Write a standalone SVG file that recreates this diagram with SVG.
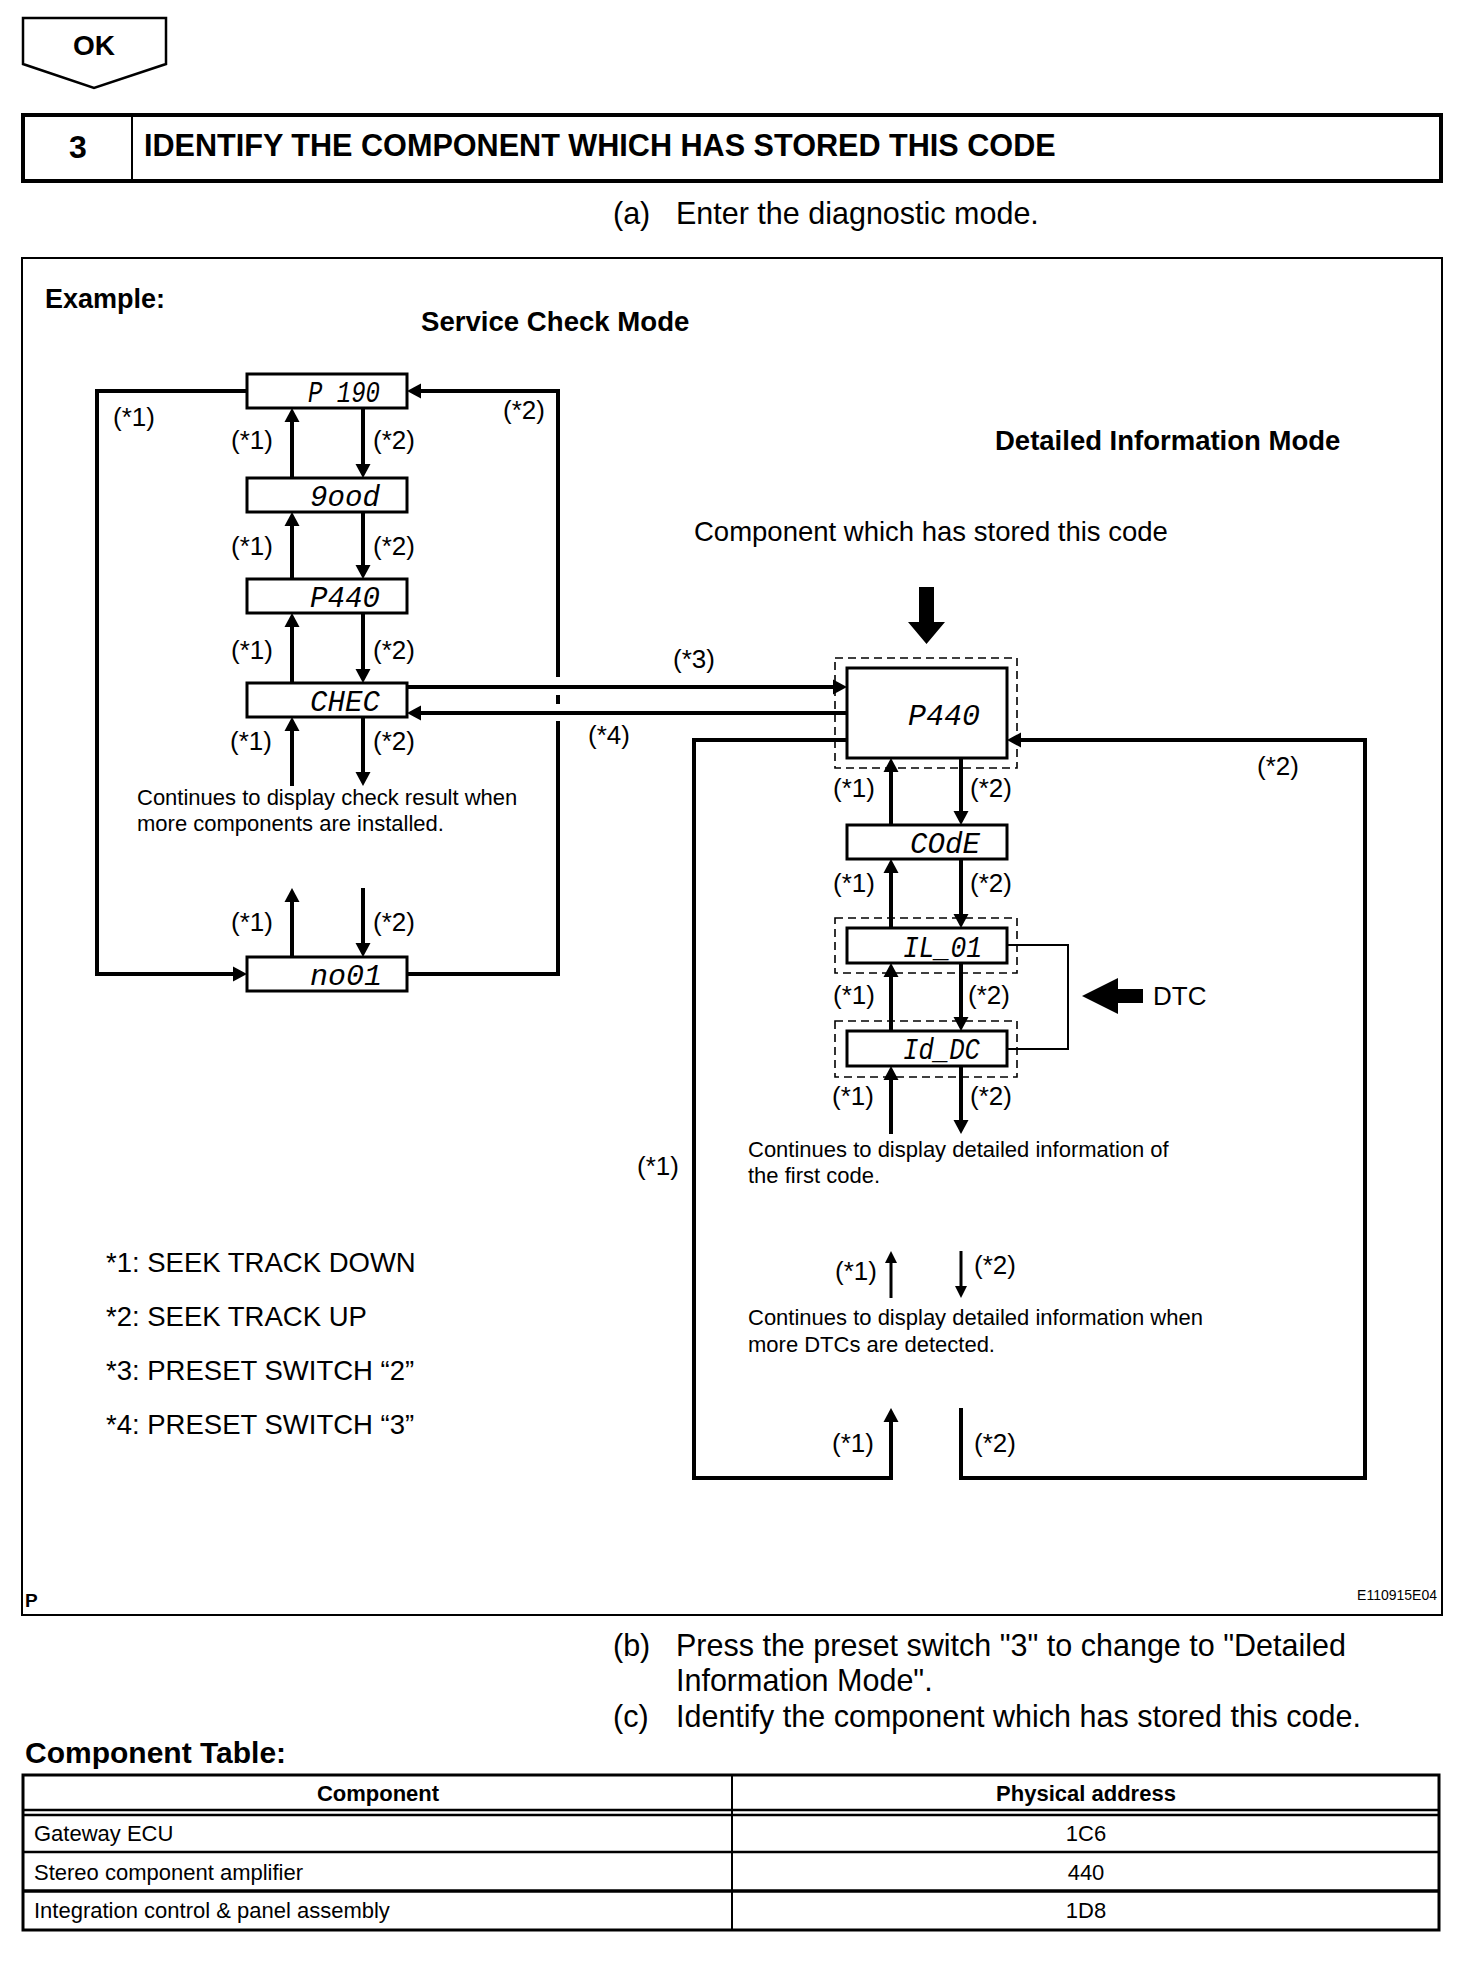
<svg xmlns="http://www.w3.org/2000/svg" width="1472" height="1968" viewBox="0 0 1472 1968">
<style>
text{font-family:"Liberation Sans",Arial,sans-serif;fill:#000}
.b{font-weight:bold}
.lbl{font-size:26px}
.sm{font-size:22px}
.step{font-size:30.5px}
.lcd{font-family:"Liberation Mono","DejaVu Sans Mono",monospace;font-style:italic;font-size:30px}
.box{fill:#fff;stroke:#000;stroke-width:3}
.dash{fill:none;stroke:#000;stroke-width:1.6;stroke-dasharray:8 5}
.ln{fill:none;stroke:#000;stroke-width:4}
.lnt{fill:none;stroke:#000;stroke-width:3}
.thin{fill:none;stroke:#000;stroke-width:2}
.arr{marker-end:url(#ah)}
.arrs{marker-end:url(#ahs)}
</style>
<defs>
<marker id="ah" markerUnits="userSpaceOnUse" viewBox="-1 -8 15 16" markerWidth="15" markerHeight="16" refX="0" refY="0" orient="auto"><path d="M-1,-7.5 L13,0 L-1,7.5 z" fill="#000"/></marker>
<marker id="ahs" markerUnits="userSpaceOnUse" viewBox="-1 -7 13 14" markerWidth="13" markerHeight="14" refX="0" refY="0" orient="auto"><path d="M-1,-6 L11,0 L-1,6 z" fill="#000"/></marker>
</defs>
<rect width="1472" height="1968" fill="#fff"/>

<!-- header -->
<g id="ok-badge">
<polygon points="23,18 166,18 166,64 94,88 23,64" fill="#fff" stroke="#000" stroke-width="2.5"/>
<text x="94" y="55" class="b" font-size="28" text-anchor="middle">OK</text>
</g>
<g id="step-header">
<rect x="23" y="115" width="1418" height="66" fill="#fff" stroke="#000" stroke-width="4"/>
<line x1="132" y1="115" x2="132" y2="181" stroke="#000" stroke-width="2"/>
<text x="78" y="158" class="b" font-size="32" text-anchor="middle">3</text>
<text x="144" y="156" class="b" font-size="30.6">IDENTIFY THE COMPONENT WHICH HAS STORED THIS CODE</text>
</g>
<g id="step-a">
<text x="613" y="224" class="step">(a)</text>
<text x="676" y="224" class="step">Enter the diagnostic mode.</text>
</g>

<!-- frame -->
<g id="frame">
<rect x="22" y="258" width="1420" height="1357" fill="none" stroke="#000" stroke-width="2"/>
<text x="45" y="308" class="b" font-size="27">Example:</text>
<text x="421" y="331" class="b" font-size="27.6">Service Check Mode</text>
<text x="995" y="450" class="b" font-size="27.5">Detailed Information Mode</text>
<text x="694" y="541" font-size="27.5">Component which has stored this code</text>
<text x="25" y="1607" class="b" font-size="19">P</text>
<text x="1437" y="1600" font-size="14" text-anchor="end">E110915E04</text>
</g>

<!-- connectors -->
<g id="connectors">
<!-- service check mode verticals -->
<line class="ln arr" x1="292" y1="478" x2="292" y2="421"/>
<line class="ln arr" x1="363" y1="408" x2="363" y2="465"/>
<line class="ln arr" x1="292" y1="579" x2="292" y2="525"/>
<line class="ln arr" x1="363" y1="512" x2="363" y2="566"/>
<line class="ln arr" x1="292" y1="683" x2="292" y2="626"/>
<line class="ln arr" x1="363" y1="613" x2="363" y2="670"/>
<line class="ln arr" x1="292" y1="786" x2="292" y2="730"/>
<line class="ln arr" x1="363" y1="717" x2="363" y2="773"/>
<line class="ln arr" x1="292" y1="957" x2="292" y2="901"/>
<line class="ln arr" x1="363" y1="888" x2="363" y2="944"/>
<!-- loops -->
<path class="ln arr" d="M247,391 H97 V974 H234"/>
<path class="ln" d="M407,974 H558 V721"/>
<path class="ln" d="M558,704 V695"/>
<path class="ln arr" d="M558,677 V391 H420"/>
<!-- mode switch -->
<line class="ln arr" x1="407" y1="687" x2="834" y2="687"/>
<line class="ln arr" x1="847" y1="713" x2="420" y2="713"/>
<!-- detailed mode verticals -->
<line class="ln arr" x1="891" y1="825" x2="891" y2="771"/>
<line class="ln arr" x1="961" y1="758" x2="961" y2="812"/>
<line class="ln arr" x1="891" y1="928" x2="891" y2="872"/>
<line class="ln arr" x1="961" y1="859" x2="961" y2="915"/>
<line class="ln arr" x1="891" y1="1031" x2="891" y2="976"/>
<line class="ln arr" x1="961" y1="963" x2="961" y2="1018"/>
<line class="ln arr" x1="891" y1="1134" x2="891" y2="1079"/>
<line class="ln arr" x1="961" y1="1066" x2="961" y2="1121"/>
<line class="lnt arrs" x1="891" y1="1298" x2="891" y2="1262"/>
<line class="lnt arrs" x1="961" y1="1251" x2="961" y2="1287"/>
<path class="ln arr" d="M847,740 H694 V1478 H891 V1421"/>
<path class="ln arr" d="M961,1408 V1478 H1365 V740 H1020"/>
<!-- DTC bracket -->
<path class="thin" d="M1007,945 H1068 V1049 H1007"/>
</g>

<!-- service check mode nodes -->
<g id="node-p190"><rect class="box" x="247" y="374" width="160" height="34"/><text class="lcd" x="308" y="402" textLength="72" lengthAdjust="spacingAndGlyphs">P 190</text></g>
<g id="node-good"><rect class="box" x="247" y="478" width="160" height="34"/><text class="lcd" x="310" y="506" textLength="70" lengthAdjust="spacingAndGlyphs">9ood</text></g>
<g id="node-p440"><rect class="box" x="247" y="579" width="160" height="34"/><text class="lcd" x="310" y="607" textLength="70" lengthAdjust="spacingAndGlyphs">P440</text></g>
<g id="node-chec"><rect class="box" x="247" y="683" width="160" height="34"/><text class="lcd" x="310" y="711" textLength="70" lengthAdjust="spacingAndGlyphs">CHEC</text></g>
<g id="node-no01"><rect class="box" x="247" y="957" width="160" height="34"/><text class="lcd" x="310" y="985" textLength="72" lengthAdjust="spacingAndGlyphs">no01</text></g>

<!-- detailed information mode nodes -->
<g id="node-p440-detail">
<rect class="dash" x="835" y="658" width="182" height="110"/>
<rect class="box" x="847" y="668" width="160" height="90"/>
<text class="lcd" x="908" y="725" font-size="34" textLength="72" lengthAdjust="spacingAndGlyphs">P440</text>
</g>
<g id="node-code"><rect class="box" x="847" y="825" width="160" height="34"/><text class="lcd" x="910" y="853" textLength="70" lengthAdjust="spacingAndGlyphs">COdE</text></g>
<g id="node-il01">
<rect class="dash" x="835" y="918" width="182" height="55"/>
<rect class="box" x="847" y="928" width="160" height="35"/>
<text class="lcd" x="903" y="957" textLength="79" lengthAdjust="spacingAndGlyphs">IL_01</text>
</g>
<g id="node-iddc">
<rect class="dash" x="835" y="1021" width="182" height="56"/>
<rect class="box" x="847" y="1031" width="160" height="35"/>
<text class="lcd" x="903" y="1059" textLength="77" lengthAdjust="spacingAndGlyphs">Id_DC</text>
</g>
<g id="big-arrow"><polygon points="919,587 934,587 934,622 945,622 926.5,644 908,622 919,622" fill="#000"/></g>
<g id="dtc">
<polygon points="1082,996 1118,978 1118,989 1143,989 1143,1003 1118,1003 1118,1014" fill="#000"/>
<text x="1153" y="1005" font-size="26">DTC</text>
</g>

<!-- labels -->
<g id="labels" class="lbl">
<text x="113" y="426">(*1)</text>
<text x="503" y="419">(*2)</text>
<text x="231" y="449">(*1)</text><text x="373" y="449">(*2)</text>
<text x="231" y="555">(*1)</text><text x="373" y="555">(*2)</text>
<text x="231" y="659">(*1)</text><text x="373" y="659">(*2)</text>
<text x="230" y="750">(*1)</text><text x="373" y="750">(*2)</text>
<text x="231" y="931">(*1)</text><text x="373" y="931">(*2)</text>
<text x="673" y="668">(*3)</text>
<text x="588" y="744">(*4)</text>
<text x="833" y="797">(*1)</text><text x="970" y="797">(*2)</text>
<text x="833" y="892">(*1)</text><text x="970" y="892">(*2)</text>
<text x="833" y="1004">(*1)</text><text x="968" y="1004">(*2)</text>
<text x="832" y="1105">(*1)</text><text x="970" y="1105">(*2)</text>
<text x="1257" y="775">(*2)</text>
<text x="637" y="1175">(*1)</text>
<text x="835" y="1280">(*1)</text><text x="974" y="1274">(*2)</text>
<text x="832" y="1452">(*1)</text><text x="974" y="1452">(*2)</text>
</g>

<g id="notes" class="sm">
<text x="137" y="805">Continues to display check result when</text>
<text x="137" y="831">more components are installed.</text>
<text x="748" y="1157">Continues to display detailed information of</text>
<text x="748" y="1183">the first code.</text>
<text x="748" y="1325">Continues to display detailed information when</text>
<text x="748" y="1352">more DTCs are detected.</text>
</g>

<g id="legend" font-size="27.5">
<text x="106" y="1272">*1: SEEK TRACK DOWN</text>
<text x="106" y="1326">*2: SEEK TRACK UP</text>
<text x="106" y="1380">*3: PRESET SWITCH “2”</text>
<text x="106" y="1434">*4: PRESET SWITCH “3”</text>
</g>

<g id="steps-bc" class="step">
<text x="613" y="1656">(b)</text>
<text x="676" y="1656">Press the preset switch "3" to change to "Detailed</text>
<text x="676" y="1691">Information Mode".</text>
<text x="613" y="1727">(c)</text>
<text x="676" y="1727">Identify the component which has stored this code.</text>
</g>

<g id="component-table">
<text x="25" y="1763" class="b" font-size="30">Component Table:</text>
<rect x="23" y="1775" width="1416" height="155" fill="none" stroke="#000" stroke-width="3"/>
<line x1="732" y1="1775" x2="732" y2="1930" stroke="#000" stroke-width="2"/>
<line x1="23" y1="1810" x2="1439" y2="1810" stroke="#000" stroke-width="2.5"/>
<line x1="23" y1="1815" x2="1439" y2="1815" stroke="#000" stroke-width="2.5"/>
<line x1="23" y1="1852" x2="1439" y2="1852" stroke="#000" stroke-width="2.5"/>
<line x1="23" y1="1891" x2="1439" y2="1891" stroke="#000" stroke-width="3.5"/>
<text x="378" y="1801" class="b" font-size="22" text-anchor="middle">Component</text>
<text x="1086" y="1801" class="b" font-size="22" text-anchor="middle">Physical address</text>
<text x="34" y="1841" font-size="22">Gateway ECU</text>
<text x="1086" y="1841" font-size="22" text-anchor="middle">1C6</text>
<text x="34" y="1880" font-size="22">Stereo component amplifier</text>
<text x="1086" y="1880" font-size="22" text-anchor="middle">440</text>
<text x="34" y="1918" font-size="22">Integration control &amp; panel assembly</text>
<text x="1086" y="1918" font-size="22" text-anchor="middle">1D8</text>
</g>
</svg>
